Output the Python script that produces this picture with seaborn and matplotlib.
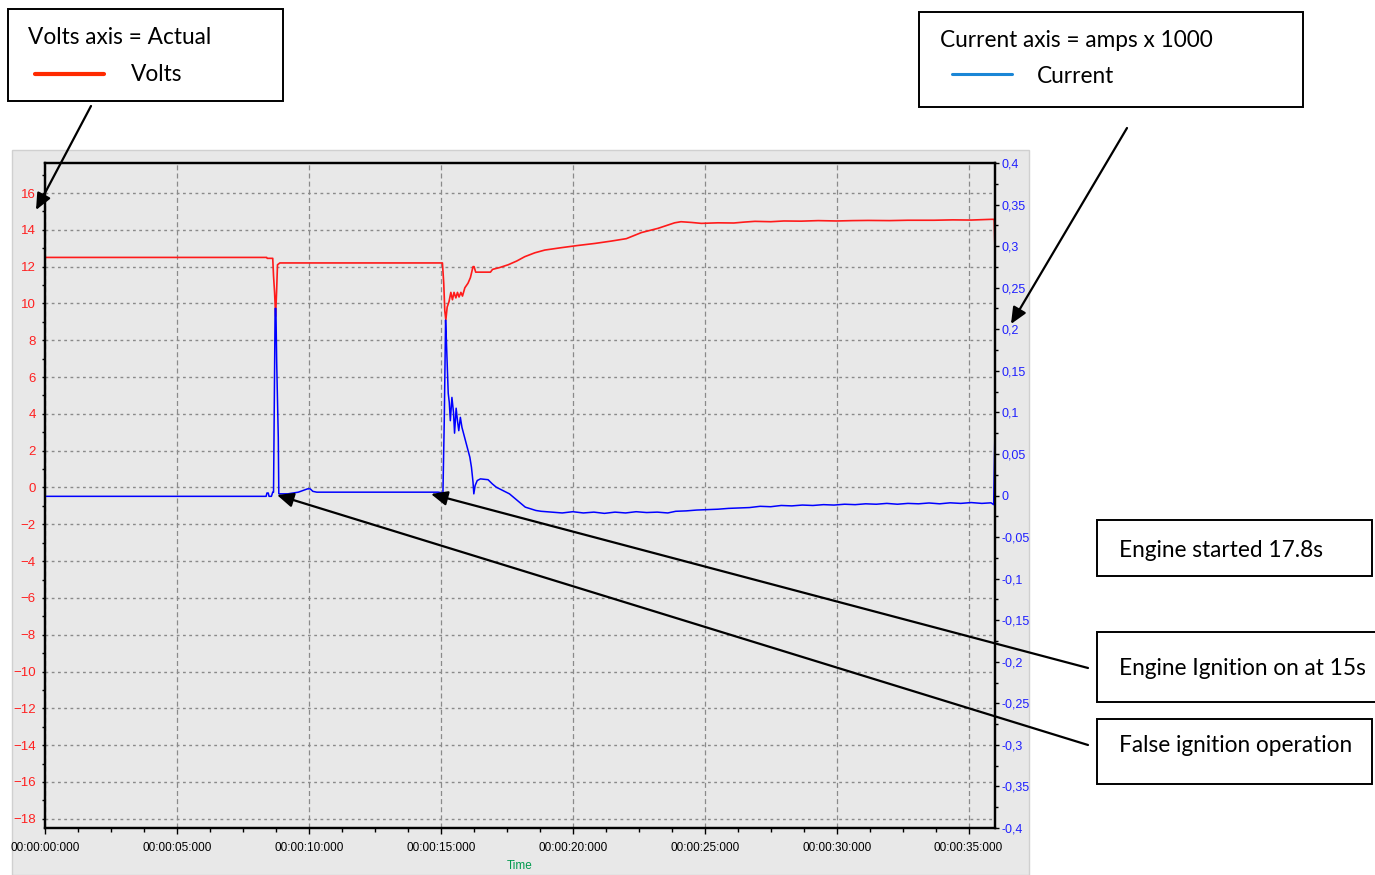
import matplotlib
matplotlib.use('Agg')
import matplotlib.pyplot as plt
import matplotlib.ticker as mticker
from matplotlib.patches import Rectangle, FancyArrowPatch
from matplotlib.lines import Line2D
import seaborn as sns

# Volts (left axis)
volt_t = [0, 8.40, 8.42, 8.63, 8.66, 8.70, 8.74, 8.78, 8.81, 8.90, 10.0, 14.98,
          15.06, 15.11, 15.15, 15.19, 15.24, 15.31, 15.38, 15.44, 15.50, 15.57,
          15.63, 15.69, 15.76, 15.82, 15.91, 16.03, 16.12, 16.22, 16.26, 16.32,
          16.88, 16.96, 17.23, 17.55, 17.87, 18.18, 18.56, 18.94, 19.57, 20.2,
          20.84, 21.47, 22.03, 22.6, 23.23, 23.86, 24.1, 24.5, 24.87, 25.5, 26.1,
          26.5, 26.9, 27.5, 28.0, 28.65, 29.3, 30.0, 30.6, 31.2, 32.0, 32.7, 33.7,
          34.4, 35.1, 35.86, 35.97, 36.0]
volt_v = [12.5, 12.5, 12.45, 12.45, 11.5, 10.6, 9.3, 10.8, 12.1, 12.2, 12.2, 12.2,
          12.2, 11.1, 9.6, 9.1, 9.8, 10.1, 10.6, 10.2, 10.6, 10.3,
          10.6, 10.35, 10.6, 10.4, 10.85, 11.1, 11.4, 12.0, 12.0, 11.7,
          11.7, 11.85, 11.95, 12.1, 12.3, 12.54, 12.75, 12.9, 13.03, 13.15,
          13.26, 13.39, 13.52, 13.85, 14.08, 14.38, 14.44, 14.4, 14.35, 14.38, 14.37,
          14.42, 14.46, 14.44, 14.48, 14.47, 14.5, 14.48, 14.5, 14.51, 14.5, 14.52, 14.52,
          14.54, 14.53, 14.57, 14.57, 12.84]

# Current (right axis, amps x 1000)
amp_t = [0, 8.38, 8.41, 8.46, 8.49, 8.58, 8.63, 8.66, 8.69, 8.72, 8.75, 8.78, 8.84,
         8.86, 9.2, 9.6, 9.95, 10.05, 10.15, 10.3, 14.9, 15.08, 15.13, 15.18,
         15.21, 15.25, 15.28, 15.32, 15.36, 15.42, 15.48, 15.52, 15.58, 15.63,
         15.68, 15.74, 15.80, 15.90, 16.0, 16.1, 16.16, 16.22, 16.25, 16.30,
         16.38, 16.5, 16.79, 16.95, 17.1, 17.35, 17.6, 17.75, 17.9, 18.05, 18.2,
         18.4, 18.6, 18.8, 19.2, 19.6, 20.0, 20.4, 20.8, 21.2, 21.6, 22.0, 22.4,
         22.8, 23.2, 23.6, 23.9, 24.3, 24.7, 25.1, 25.5, 25.9, 26.3, 26.7, 27.1,
         27.5, 27.9, 28.3, 28.7, 29.1, 29.5, 29.9, 30.3, 30.7, 31.1, 31.5, 31.9,
         32.3, 32.7, 33.1, 33.5, 33.9, 34.3, 34.7, 35.1, 35.5, 35.85, 35.95, 36.0]
amp_v = [-0.001, -0.001, 0.003, 0.003, -0.001, -0.001, 0.004, 0.004, 0.114, 0.225,
         0.225, 0.16, 0.07, 0.002, 0.002, 0.004, 0.008, 0.008, 0.005, 0.004, 0.004,
         0.003, 0.09, 0.211, 0.187, 0.15, 0.123, 0.112, 0.09, 0.118, 0.10, 0.075,
         0.105, 0.09, 0.078, 0.094, 0.082, 0.07, 0.058, 0.046, 0.034, 0.016, 0.002,
         0.012, 0.018, 0.02, 0.019, 0.014, 0.01, 0.006, 0.002, -0.002, -0.006,
         -0.010, -0.014, -0.016, -0.018, -0.019, -0.020, -0.021, -0.0195, -0.021,
         -0.020, -0.0215, -0.020, -0.021, -0.0195, -0.0205, -0.020, -0.021, -0.019,
         -0.0185, -0.0175, -0.017, -0.0165, -0.0155, -0.015, -0.0145, -0.013,
         -0.0135, -0.012, -0.0125, -0.0115, -0.012, -0.011, -0.0115, -0.0105,
         -0.011, -0.010, -0.0105, -0.0095, -0.0105, -0.0095, -0.010, -0.009,
         -0.010, -0.0088, -0.0095, -0.0085, -0.0095, -0.0088, -0.011, 0.082]

time_ticks = [0, 5, 10, 15, 20, 25, 30, 35]
time_labels = ['00:00:00:000', '00:00:05:000', '00:00:10:000', '00:00:15:000',
               '00:00:20:000', '00:00:25:000', '00:00:30:000', '00:00:35:000']
volt_ticks = list(range(-18, 17, 2))
amp_ticks = [-0.4, -0.35, -0.3, -0.25, -0.2, -0.15, -0.1, -0.05, 0,
             0.05, 0.1, 0.15, 0.2, 0.25, 0.3, 0.35, 0.4]
amp_labels = ['-0,4', '-0,35', '-0,3', '-0,25', '-0,2', '-0,15', '-0,1', '-0,05', '0',
              '0,05', '0,1', '0,15', '0,2', '0,25', '0,3', '0,35', '0,4']

sns.set_theme(style='ticks')
plt.rcParams['font.family'] = ['Liberation Sans Narrow', 'Liberation Sans', 'DejaVu Sans']

W, H = 1375, 875
fig = plt.figure(figsize=(13.75, 8.75), dpi=100, facecolor='white')


def fx(px):
    return px / W


def fy(py):
    return 1 - py / H


# gray panel behind the chart
fig.add_artist(Rectangle((fx(12), 0), fx(1029) - fx(12), fy(150), transform=fig.transFigure,
                         facecolor='#e8e8e8', edgecolor='#d0d0d0', lw=1, zorder=-5))

ax = fig.add_axes([fx(45), fy(828), fx(995) - fx(45), fy(163) - fy(828)])
ax.set_facecolor('#e8e8e8')
ax2 = ax.twinx()

sns.lineplot(x=volt_t, y=volt_v, ax=ax, color='#ff1a1a', lw=1.2, estimator=None, sort=False)
sns.lineplot(x=amp_t, y=amp_v, ax=ax2, color='#0000ff', lw=1.1, estimator=None, sort=False)

ax.set_xlim(0, 36)
ax.set_ylim(-18.5, 17.63)
ax2.set_ylim(-0.4, 0.4)

ax.set_axisbelow(True)
ax.xaxis.grid(True, which='major', ls=(0, (4, 2.5)), color='#8a8a8a', lw=0.9)
ax.yaxis.grid(True, which='major', ls=(0, (2, 2.5)), color='#8a8a8a', lw=1.0)

ax.set_xticks(time_ticks, time_labels)
ax.xaxis.set_minor_locator(mticker.MultipleLocator(1.25))
ax.set_yticks(volt_ticks)
ax.yaxis.set_minor_locator(mticker.MultipleLocator(1))
ax2.set_yticks(amp_ticks, amp_labels)
ax2.yaxis.set_minor_locator(mticker.MultipleLocator(0.025))

ax.tick_params(axis='x', which='major', length=4, width=1, pad=6, labelsize=8.5,
               labelcolor='black', color='black')
ax.tick_params(axis='x', which='minor', length=3, width=1, color='black')
ax.tick_params(axis='y', which='major', length=2.5, width=1, pad=4, labelsize=9.5,
               labelcolor='#ff2020', color='black')
ax.tick_params(axis='y', which='minor', length=2, width=1, color='black')
ax2.tick_params(axis='y', which='major', length=3, width=1, pad=2, labelsize=9,
                labelcolor='#2020ff', color='black')
ax2.tick_params(axis='y', which='minor', length=2, width=1, color='black')

for a in (ax, ax2):
    for s in a.spines.values():
        s.set_visible(True)
        s.set_color('black')
        s.set_linewidth(1.6)
    a.set_xlabel('')
    a.set_ylabel('')

fig.text(fx(520), fy(866), 'Time', ha='center', va='center', color='#009a4e', fontsize=8.5)

# annotation boxes
ann_font = ['Lato', 'DejaVu Sans']
boxes = [(8, 9, 283, 101), (919, 12, 1303, 107), (1097, 520, 1372, 576),
         (1097, 632, 1390, 702), (1097, 719, 1372, 784)]
for x0, y0, x1, y1 in boxes:
    fig.add_artist(Rectangle((fx(x0), fy(y1)), fx(x1) - fx(x0), fy(y0) - fy(y1),
                             transform=fig.transFigure, facecolor='white',
                             edgecolor='black', lw=1.4, zorder=5))

texts = [(28, 44, 'Volts axis = Actual'), (131, 81, 'Volts'),
         (940, 47, 'Current axis = amps x 1000'), (1037, 83, 'Current'),
         (1119, 557, 'Engine started 17.8s'), (1119, 675, 'Engine Ignition on at 15s'),
         (1119, 752, 'False ignition operation')]
for x, y, s in texts:
    fig.text(fx(x), fy(y), s, ha='left', va='baseline', fontsize=16.3, family=ann_font,
             color='black', zorder=6)

fig.add_artist(Line2D([fx(35), fx(104)], [fy(74), fy(74)], transform=fig.transFigure,
                      color='#ff2a00', lw=3, zorder=6))
fig.add_artist(Line2D([fx(952), fx(1012)], [fy(74), fy(74)], transform=fig.transFigure,
                      color='#1a86d6', lw=2.2, zorder=6))

arrows = [((91, 106), (36, 210)), ((1127, 128), (1011, 324)),
          ((1088, 668), (431, 494)), ((1088, 745), (277, 495))]
for (xa, ya), (xb, yb) in arrows:
    fig.add_artist(FancyArrowPatch((fx(xa), fy(ya)), (fx(xb), fy(yb)),
                                   transform=fig.transFigure,
                                   arrowstyle='-|>,head_length=0.45,head_width=0.2',
                                   mutation_scale=22, lw=1.6, color='black',
                                   shrinkA=0, shrinkB=0, zorder=7))

fig.savefig('out.png', dpi=100, facecolor='white')
